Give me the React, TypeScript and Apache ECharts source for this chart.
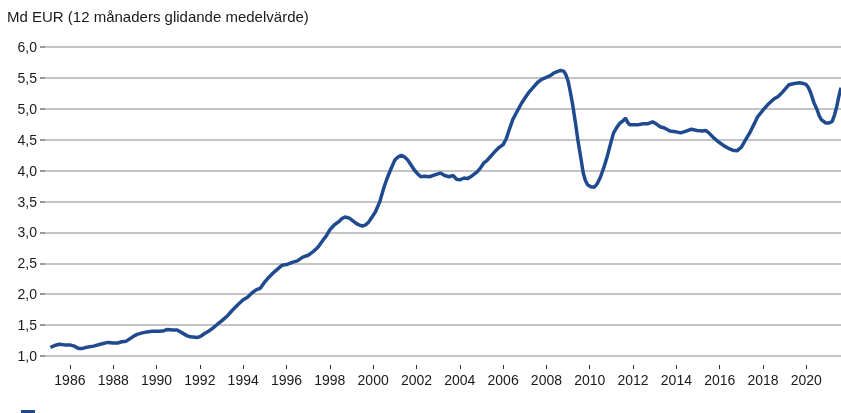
import React, { useEffect, useRef } from "react";
import * as echarts from "echarts";

const titleText = "Md EUR (12 månaders glidande medelvärde)";
const seriesName = "Md EUR";

const years = [
  1985.1, 1985.3, 1985.5, 1985.75, 1986.0, 1986.2, 1986.4, 1986.55, 1986.75, 1986.9,
  1987.1, 1987.4, 1987.75, 1988.0, 1988.2, 1988.4, 1988.6, 1988.9, 1989.1, 1989.3,
  1989.55, 1989.8, 1990.15, 1990.35, 1990.5, 1990.75, 1990.95, 1991.2, 1991.4, 1991.55,
  1991.9, 1992.05, 1992.2, 1992.4, 1992.6, 1992.8, 1993.05, 1993.3, 1993.5, 1993.75,
  1994.0, 1994.2, 1994.4, 1994.6, 1994.8, 1995.0, 1995.2, 1995.4, 1995.6, 1995.8,
  1996.0, 1996.3, 1996.5, 1996.75, 1997.0, 1997.2, 1997.45, 1997.7, 1997.85, 1998.0,
  1998.2, 1998.4, 1998.55, 1998.7, 1998.9, 1999.05, 1999.2, 1999.35, 1999.5, 1999.65,
  1999.8, 1999.95, 2000.1, 2000.3, 2000.5, 2000.65, 2000.8, 2001.0, 2001.15, 2001.3,
  2001.45, 2001.6, 2001.75, 2001.9, 2002.05, 2002.2, 2002.4, 2002.6, 2002.85, 2003.1,
  2003.3, 2003.5, 2003.7, 2003.85, 2004.0, 2004.2, 2004.35, 2004.5, 2004.65, 2004.8,
  2004.95, 2005.1, 2005.25, 2005.4, 2005.6, 2005.8, 2006.0, 2006.15, 2006.3, 2006.45,
  2006.65, 2006.85, 2007.0, 2007.2, 2007.4, 2007.6, 2007.8, 2008.0, 2008.2, 2008.35,
  2008.5, 2008.65, 2008.8, 2008.9, 2009.0, 2009.1, 2009.2, 2009.35, 2009.45, 2009.6,
  2009.7, 2009.8, 2009.9, 2010.05, 2010.2, 2010.35, 2010.5, 2010.65, 2010.8, 2010.95,
  2011.1, 2011.25, 2011.4, 2011.55, 2011.65, 2011.75, 2011.85, 2012.0, 2012.2, 2012.35,
  2012.5, 2012.7, 2012.9, 2013.05, 2013.25, 2013.45, 2013.7, 2013.95, 2014.2, 2014.45,
  2014.7, 2014.95, 2015.2, 2015.35, 2015.5, 2015.75, 2016.0, 2016.2, 2016.4, 2016.6,
  2016.8, 2017.0, 2017.2, 2017.4, 2017.6, 2017.75, 2018.0, 2018.2, 2018.35, 2018.5,
  2018.7, 2018.9, 2019.05, 2019.2, 2019.45, 2019.7, 2019.85, 2020.0, 2020.1, 2020.2,
  2020.35, 2020.5, 2020.6, 2020.7, 2020.9, 2021.05, 2021.2, 2021.3, 2021.4, 2021.5,
  2021.6,
];

const values = [
  1.14, 1.17, 1.19, 1.18, 1.18, 1.16, 1.12, 1.12, 1.14, 1.15,
  1.16, 1.19, 1.22, 1.21, 1.21, 1.23, 1.24, 1.31, 1.35, 1.37,
  1.39, 1.40, 1.40, 1.41, 1.43, 1.42, 1.42, 1.37, 1.33, 1.31,
  1.30, 1.32, 1.36, 1.40, 1.45, 1.51, 1.58, 1.66, 1.74, 1.83,
  1.91, 1.95, 2.02, 2.07, 2.10, 2.20, 2.28, 2.35, 2.41, 2.47,
  2.48, 2.52, 2.54, 2.60, 2.63, 2.68, 2.76, 2.88, 2.95, 3.04,
  3.12, 3.17, 3.22, 3.25, 3.23, 3.19, 3.15, 3.12, 3.10, 3.12,
  3.17, 3.25, 3.33, 3.49, 3.73, 3.88, 4.01, 4.17, 4.22, 4.25,
  4.22, 4.17, 4.09, 4.01, 3.95, 3.90, 3.91, 3.90, 3.93, 3.96,
  3.92, 3.90, 3.92, 3.86, 3.85, 3.88, 3.87, 3.90, 3.94, 3.98,
  4.04, 4.12, 4.16, 4.22, 4.30, 4.37, 4.42, 4.52, 4.68, 4.83,
  4.96, 5.09, 5.17, 5.27, 5.35, 5.43, 5.48, 5.51, 5.54, 5.58,
  5.60, 5.62, 5.61, 5.55, 5.45, 5.28, 5.09, 4.75, 4.50, 4.18,
  3.96, 3.84, 3.77, 3.74, 3.73, 3.79, 3.90, 4.05, 4.22, 4.42,
  4.61, 4.70, 4.77, 4.81, 4.85, 4.78, 4.74, 4.74, 4.74, 4.75,
  4.76, 4.76, 4.79, 4.76, 4.71, 4.69, 4.64, 4.63, 4.61, 4.64,
  4.67, 4.65, 4.64, 4.65, 4.61, 4.52, 4.45, 4.40, 4.36, 4.33,
  4.32, 4.38, 4.50, 4.62, 4.76, 4.87, 4.98, 5.06, 5.11, 5.16,
  5.20, 5.27, 5.33, 5.39, 5.41, 5.42, 5.41, 5.39, 5.34, 5.26,
  5.10, 4.98, 4.88, 4.82, 4.77, 4.77, 4.80, 4.90, 5.03, 5.20,
  5.34,
];

const xTickYears = [
  1986, 1988, 1990, 1992, 1994, 1996, 1998, 2000, 2002, 2004,
  2006, 2008, 2010, 2012, 2014, 2016, 2018, 2020,
];

const LINE_COLOR = "#1f4b8e";
const FONT = "'Liberation Sans', Arial, sans-serif";

export default function App() {
  const ref = useRef<HTMLDivElement>(null);
  useEffect(() => {
    if (!ref.current) return;
    const chart = echarts.init(ref.current, undefined, { renderer: "svg" });
    const data = years.map((y, i) => [y, values[i]]);
    chart.setOption({
      animation: false,
      title: {
        text: titleText,
        left: 2,
        top: 4,
        textStyle: { fontSize: 15, fontWeight: "normal", color: "#1a1a1a", fontFamily: FONT },
      },
      graphic: [
        {
          type: "rect",
          left: 21,
          top: 410,
          shape: { width: 14, height: 8 },
          style: { fill: LINE_COLOR },
          silent: true,
        },
      ],
      grid: { left: 45, right: 0, top: 47, bottom: 57, containLabel: false },
      xAxis: {
        type: "value",
        min: 1984.85,
        max: 2021.6,
        offset: 9,
        axisLine: { show: false },
        axisTick: {
          show: true,
          length: 4,
          lineStyle: { color: "#333", width: 1 },
          customValues: xTickYears,
        },
        axisLabel: {
          customValues: xTickYears,
          margin: 8,
          fontSize: 14,
          color: "#1a1a1a",
          fontFamily: FONT,
          formatter: (v: number) => String(Math.round(v)),
        },
        splitLine: { show: false },
      },
      yAxis: {
        type: "value",
        min: 1,
        max: 6,
        interval: 0.5,
        axisLine: { show: false },
        axisTick: { show: true, length: 5, lineStyle: { color: "#999", width: 2 } },
        axisLabel: {
          margin: 8,
          fontSize: 14,
          color: "#1a1a1a",
          fontFamily: FONT,
          formatter: (v: number) => v.toFixed(1).replace(".", ","),
        },
        splitLine: { show: true, lineStyle: { color: "#c4c4c8", width: 2 } },
      },
      series: [
        {
          name: seriesName,
          type: "line",
          data,
          showSymbol: false,
          smooth: false,
          lineStyle: { color: LINE_COLOR, width: 3.5 },
          itemStyle: { color: LINE_COLOR },
        },
      ],
    });
    return () => chart.dispose();
  }, []);
  return (
    <div
      ref={ref}
      style={{ position: "fixed", left: 0, top: 0, width: 841, height: 413 }}
    />
  );
}
